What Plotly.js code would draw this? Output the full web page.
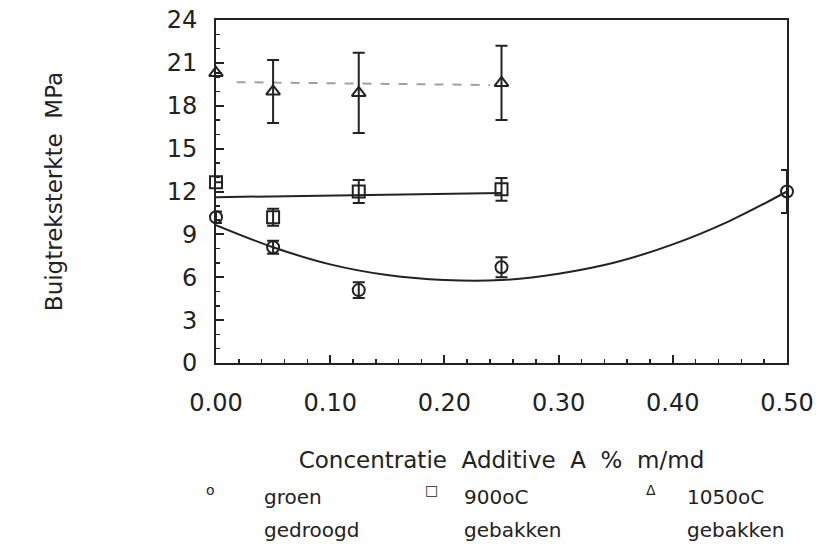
<!DOCTYPE html>
<html>
<head>
<meta charset="utf-8">
<script src="https://cdn.plot.ly/plotly-3.0.1.min.js"></script>
<style>html,body{margin:0;padding:0;background:#fff;}#chart{width:819px;height:550px;}</style>
</head>
<body>
<div id="chart"></div>
<script>
// Concentration (% m/md)
var concGroen = [0, 0.05, 0.125, 0.25, 0.5];
var valGroen = [10.2, 8.1, 5.1, 6.7, 12.0];
var errGroen = [0.4, 0.45, 0.55, 0.7, 1.5];

var conc900 = [0, 0.05, 0.125, 0.25];
var val900 = [12.65, 10.2, 12.0, 12.15];
var err900 = [0, 0.6, 0.8, 0.8];

var conc1050 = [0, 0.05, 0.125, 0.25];
var val1050 = [20.3, 19.0, 18.9, 19.6];
var err1050 = [0, 2.2, 2.8, 2.6];

// fitted curves
var fitGroenX = [0, 0.05, 0.1, 0.15, 0.2, 0.25, 0.3, 0.35, 0.4, 0.45, 0.5];
var fitGroenY = [9.65, 8.1, 6.9, 6.15, 5.8, 5.8, 6.25, 7.05, 8.3, 9.95, 12.0];
var fit900X = [0, 0.25];
var fit900Y = [11.6, 11.9];
var fit1050X = [0.018, 0.24];
var fit1050Y = [19.65, 19.45];

var xTicks = [0, 0.1, 0.2, 0.3, 0.4, 0.5];
var xTickText = ['0.00', '0.10', '0.20', '0.30', '0.40', '0.50'];
var yTicks = [0, 3, 6, 9, 12, 15, 18, 21, 24];

var legendSymbols = ['o', '\u25A1', '\u0394'];
var legendLine1 = ['groen', '900oC', '1050oC'];
var legendLine2 = ['gedroogd', 'gebakken', 'gebakken'];

var FONT = 'DejaVu Sans, Arial, sans-serif';
var INK = '#222';

function errBar(arr) {
  return {type: 'data', array: arr, visible: true, color: INK, thickness: 2, width: 6};
}

var traces = [
  {x: fitGroenX, y: fitGroenY, mode: 'lines', line: {color: INK, width: 2, shape: 'spline'}, hoverinfo: 'skip'},
  {x: fit900X, y: fit900Y, mode: 'lines', line: {color: INK, width: 2}, hoverinfo: 'skip'},
  {x: fit1050X, y: fit1050Y, mode: 'lines', line: {color: '#a0a0a0', width: 2, dash: 'dash'}, hoverinfo: 'skip'},
  {x: concGroen, y: valGroen, mode: 'markers', cliponaxis: false,
   marker: {symbol: 'circle-open', size: 12, color: INK, line: {width: 2, color: INK}}, error_y: errBar(errGroen)},
  {x: conc900, y: val900, mode: 'markers', cliponaxis: false,
   marker: {symbol: 'square-open', size: 12, color: INK, line: {width: 2, color: INK}}, error_y: errBar(err900)},
  {x: conc1050, y: val1050, mode: 'markers', cliponaxis: false,
   marker: {symbol: 'triangle-up-open', size: 12, color: INK, line: {width: 2, color: INK}}, error_y: errBar(err1050)}
];

// legend drawn as annotations (paper coordinates below the plot)
var symX = [-0.009, 0.378, 0.762];
var txtX = [0.081, 0.431, 0.821];
var annotations = [];
for (var i = 0; i < 3; i++) {
  annotations.push({xref: 'paper', yref: 'paper', x: symX[i], y: -0.37, xanchor: 'center', yanchor: 'middle',
    text: legendSymbols[i], showarrow: false, font: {size: 14, color: INK, family: FONT}});
  annotations.push({xref: 'paper', yref: 'paper', x: txtX[i], y: -0.39, xanchor: 'left', yanchor: 'middle',
    text: legendLine1[i], showarrow: false, font: {size: 20, color: INK, family: FONT}});
  annotations.push({xref: 'paper', yref: 'paper', x: txtX[i], y: -0.487, xanchor: 'left', yanchor: 'middle',
    text: legendLine2[i], showarrow: false, font: {size: 20, color: INK, family: FONT}});
}

var layout = {
  width: 819, height: 550,
  margin: {l: 216, r: 32, t: 20, b: 187},
  paper_bgcolor: '#fff', plot_bgcolor: '#fff',
  font: {family: FONT, color: INK, size: 22},
  showlegend: false,
  annotations: annotations,
  xaxis: {
    range: [0, 0.5], tickvals: xTicks, ticktext: xTickText, automargin: false,
    showline: true, linecolor: INK, linewidth: 2, mirror: true,
    ticks: 'inside', ticklen: 8, tickwidth: 2, tickcolor: INK,
    minor: {dtick: 0.02, ticks: 'inside', ticklen: 4, tickwidth: 1.5, tickcolor: INK},
    showgrid: false, zeroline: false, ticklabelstandoff: 17,
    tickfont: {size: 24, color: INK, family: FONT},
    title: {text: 'Concentratie  Additive  A  %  m/md', font: {size: 23, color: INK, family: FONT}, standoff: 36}
  },
  yaxis: {
    range: [0, 24], tickvals: yTicks, automargin: false,
    showline: true, linecolor: INK, linewidth: 2, mirror: true,
    ticks: 'inside', ticklen: 8, tickwidth: 2, tickcolor: INK,
    minor: {dtick: 1, ticks: 'inside', ticklen: 4, tickwidth: 1.5, tickcolor: INK},
    showgrid: false, zeroline: false, ticklabelstandoff: 12,
    tickfont: {size: 24, color: INK, family: FONT},
    title: {text: 'Buigtreksterkte  MPa', font: {size: 23, color: INK, family: FONT}, standoff: 98}
  }
};

Plotly.newPlot('chart', traces, layout, {displayModeBar: false, staticPlot: true});
</script>
</body>
</html>
